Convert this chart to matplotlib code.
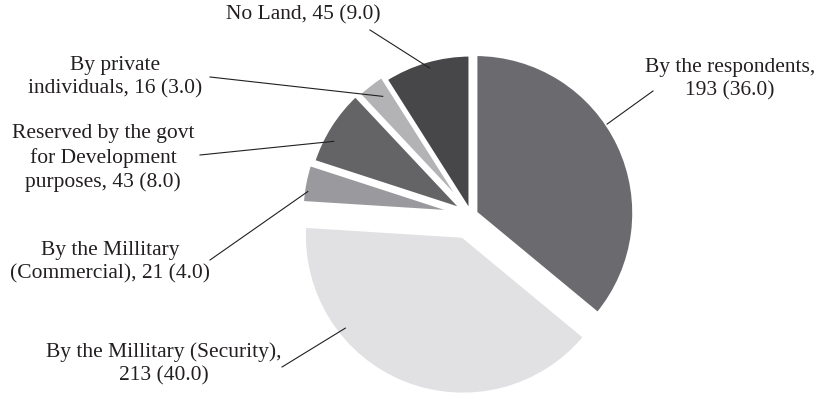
import numpy as np
import matplotlib
matplotlib.use("Agg")
import matplotlib.pyplot as plt

# slices, clockwise from 12 o'clock
categories = ["By the respondents", "By the Millitary (Security)",
              "By the Millitary (Commercial)", "Reserved by the govt for Development purposes",
              "By private individuals", "No Land"]
counts = [193, 213, 21, 43, 16, 45]
shares = [36.0, 40.0, 4.0, 8.0, 3.0, 9.0]
label_texts = [
    "By the respondents,\n193 (36.0)",
    "By the Millitary (Security),\n213 (40.0)",
    "By the Millitary\n(Commercial), 21 (4.0)",
    "Reserved by the govt\nfor Development\npurposes, 43 (8.0)",
    "By private\nindividuals, 16 (3.0)",
    "No Land, 45 (9.0)",
]
colors = ["#6b6b6f", "#e1e1e3", "#9a9a9e", "#646466", "#b3b3b6", "#474749"]
explode_frac = [0.03, 0.14, 0.067, 0.05, 0.04, 0.01]

W, H = 822, 395
fig = plt.figure(figsize=(W / 100, H / 100), dpi=100)
ax = fig.add_axes([0, 0, 1, 1])

# pixel-ish coordinates, y measured from the bottom
cx, cy = 471, H - 215
R = 159

# matplotlib's explode is in data units, not radius fractions
wedges, _ = ax.pie(shares, colors=colors, startangle=90, counterclock=False,
                   explode=[e * R for e in explode_frac], center=(cx, cy), radius=R,
                   wedgeprops=dict(edgecolor="white", linewidth=3))

ax.set_xlim(0, W)
ax.set_ylim(0, H)
ax.set_aspect("equal")
ax.axis("off")

# label placement (screen px) and where leader lines touch the slice
label_pos = [(730, 79), (164, 364), (110, 262), (103, 158), (115, 77), (303, 15)]
line_start = [(653, 91), (282, 367), (210, 260), (200, 155), (210, 77), (370, 30)]
anchor = [(34, 1.0), (-141.8, 0.94), (172, 0.97), (152, 0.93), (126.6, 0.89), (105.7, 0.95)]

for w, txt, (lx, ly), (sx, sy), (ang, frac) in zip(wedges, label_texts, label_pos,
                                                     line_start, anchor):
    ax.text(lx, H - ly, txt, ha="center", va="center", fontsize=15.5,
            family="Liberation Serif", color="#231f20", linespacing=1.3)
    wx, wy = w.center
    a = np.deg2rad(ang)
    ex, ey = wx + frac * w.r * np.cos(a), wy + frac * w.r * np.sin(a)
    ax.plot([sx, ex], [H - sy, ey], color="#231f20", lw=0.8)

fig.savefig("out.png", dpi=100)
